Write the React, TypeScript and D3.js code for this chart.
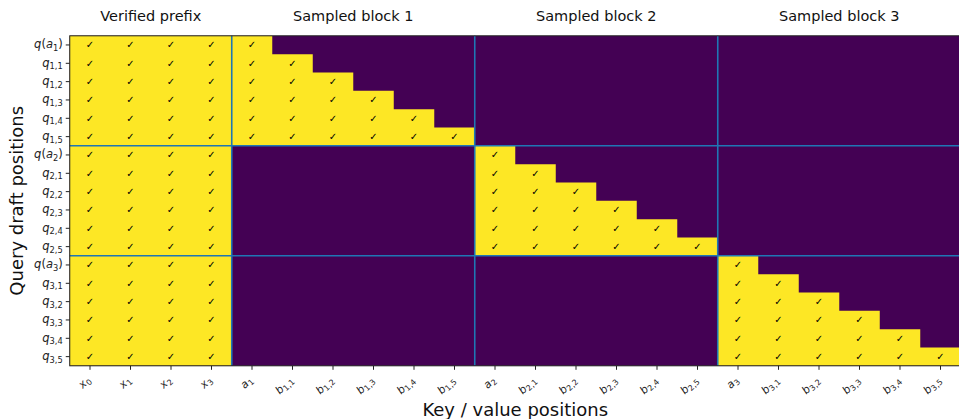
import React from "react";
import * as d3 from "d3";

// Column labels: [letter, subscript]
const colLabels: [string, string][] = [
  ["x", "0"], ["x", "1"], ["x", "2"], ["x", "3"],
  ["a", "1"], ["b", "1,1"], ["b", "1,2"], ["b", "1,3"], ["b", "1,4"], ["b", "1,5"],
  ["a", "2"], ["b", "2,1"], ["b", "2,2"], ["b", "2,3"], ["b", "2,4"], ["b", "2,5"],
  ["a", "3"], ["b", "3,1"], ["b", "3,2"], ["b", "3,3"], ["b", "3,4"], ["b", "3,5"],
];
// Row labels: [kind, subscript]; kind "qa" => q(a_k)
const rowLabels: [string, string][] = [
  ["qa", "1"], ["q", "1,1"], ["q", "1,2"], ["q", "1,3"], ["q", "1,4"], ["q", "1,5"],
  ["qa", "2"], ["q", "2,1"], ["q", "2,2"], ["q", "2,3"], ["q", "2,4"], ["q", "2,5"],
  ["qa", "3"], ["q", "3,1"], ["q", "3,2"], ["q", "3,3"], ["q", "3,4"], ["q", "3,5"],
];
// Attention mask (1 = allowed)
const maskRows: string[] = [
  "1111" + "100000" + "000000" + "000000",
  "1111" + "110000" + "000000" + "000000",
  "1111" + "111000" + "000000" + "000000",
  "1111" + "111100" + "000000" + "000000",
  "1111" + "111110" + "000000" + "000000",
  "1111" + "111111" + "000000" + "000000",
  "1111" + "000000" + "100000" + "000000",
  "1111" + "000000" + "110000" + "000000",
  "1111" + "000000" + "111000" + "000000",
  "1111" + "000000" + "111100" + "000000",
  "1111" + "000000" + "111110" + "000000",
  "1111" + "000000" + "111111" + "000000",
  "1111" + "000000" + "000000" + "100000",
  "1111" + "000000" + "000000" + "110000",
  "1111" + "000000" + "000000" + "111000",
  "1111" + "000000" + "000000" + "111100",
  "1111" + "000000" + "000000" + "111110",
  "1111" + "000000" + "000000" + "111111",
];
const groupTitles: string[] = ["Verified prefix", "Sampled block 1", "Sampled block 2", "Sampled block 3"];
const colGroupSizes: number[] = [4, 6, 6, 6];
const rowGroupSizes: number[] = [6, 6, 6];

const W = 959, H = 419;
const L = 69.75, R = 960.75, T = 35.8, B = 365.8;
const FONT = "DejaVu Sans, sans-serif";
const YELLOW = "#fde725", PURPLE = "#440154", BLUE = "#1f77b4";

function Sub({ base, sub, fs }: { base: string; sub: string; fs: number }) {
  return (
    <>
      <tspan fontStyle="italic">{base}</tspan>
      <tspan fontSize={fs * 0.72} dy={fs * 0.22}>{sub}</tspan>
    </>
  );
}

export default function App() {
  const cols = d3.range(colLabels.length);
  const rows = d3.range(rowLabels.length);
  const x = d3.scaleBand<number>().domain(cols).range([L, R]).padding(0);
  const y = d3.scaleBand<number>().domain(rows).range([T, B]).padding(0);
  const cw = x.bandwidth(), ch = y.bandwidth();
  const color = d3.scaleOrdinal<string, string>().domain(["0", "1"]).range([PURPLE, YELLOW]);

  const colBounds = d3.cumsum(colGroupSizes);
  const rowBounds = d3.cumsum(rowGroupSizes);
  const colStarts = [0, ...Array.from(colBounds)];

  // union of all "1" cells as one path (no seams between cells)
  const p = d3.path();
  rows.forEach((r) =>
    cols.forEach((c) => {
      if (maskRows[r][c] === "1") p.rect(x(c) as number, y(r) as number, cw + 0.01, ch + 0.01);
    })
  );

  return (
    <svg width={W} height={H} style={{ position: "absolute", left: 0, top: 0, fontFamily: FONT }}>
      <rect width={W} height={H} fill="#fff" />
      <rect x={L} y={T} width={R - L} height={B - T} fill={color("0")} />
      <path d={p.toString()} fill={color("1")} fillRule="nonzero" />
      {rows.map((r) =>
        cols.map((c) =>
          maskRows[r][c] === "1" ? (
            <text key={`t${r}-${c}`} x={(x(c) as number) + cw / 2} y={(y(r) as number) + ch / 2}
              textAnchor="middle" dominantBaseline="central" fontSize={10} fill="#000">✓</text>
          ) : null
        )
      )}
      {/* group separators */}
      {Array.from(colBounds).slice(0, -1).map((b, i) => (
        <line key={`vc${i}`} x1={x(b)} x2={x(b)} y1={T} y2={B} stroke={BLUE} strokeWidth={1.6} />
      ))}
      {Array.from(rowBounds).slice(0, -1).map((b, i) => (
        <line key={`hr${i}`} x1={L} x2={R} y1={y(b)} y2={y(b)} stroke={BLUE} strokeWidth={1.6} />
      ))}
      {/* spines */}
      <rect x={L} y={T} width={R - L} height={B - T} fill="none" stroke="#222" strokeWidth={1} />
      {/* group titles */}
      {groupTitles.map((t, i) => {
        const cx = ((x(colStarts[i]) as number) + (x(colStarts[i + 1] - 1) as number) + cw) / 2;
        return (
          <text key={t} x={cx} y={21} textAnchor="middle" fontSize={14.5} fill="#111">{t}</text>
        );
      })}
      {/* y ticks */}
      {rows.map((r) => {
        const yc = (y(r) as number) + ch / 2;
        const [kind, sub] = rowLabels[r];
        const fs = 11.5;
        return (
          <g key={`yt${r}`}>
            <line x1={L - 4} x2={L} y1={yc} y2={yc} stroke="#222" strokeWidth={1} />
            <text x={L - 7} y={yc + 3.5} textAnchor="end" fontSize={fs} fill="#222">
              {kind === "qa" ? (
                <>
                  <tspan fontStyle="italic">q</tspan>
                  <tspan>(</tspan>
                  <tspan fontStyle="italic">a</tspan>
                  <tspan fontSize={fs * 0.72} dy={fs * 0.22}>{sub}</tspan>
                  <tspan dy={-fs * 0.22}>)</tspan>
                </>
              ) : (
                <Sub base="q" sub={sub} fs={fs} />
              )}
            </text>
          </g>
        );
      })}
      {/* x ticks */}
      {cols.map((c) => {
        const xc = (x(c) as number) + cw / 2;
        const [base, sub] = colLabels[c];
        const fs = 11;
        return (
          <g key={`xt${c}`}>
            <line x1={xc} x2={xc} y1={B} y2={B + 4} stroke="#222" strokeWidth={1} />
            <text transform={`translate(${xc + 1},${B + 15}) rotate(-45)`} textAnchor="end"
              fontSize={fs} fill="#222">
              <Sub base={base} sub={sub} fs={fs} />
            </text>
          </g>
        );
      })}
      <text x={(L + R) / 2} y={416} textAnchor="middle" fontSize={18} fill="#111">Key / value positions</text>
      <text transform={`translate(23,${(T + B) / 2}) rotate(-90)`} textAnchor="middle" fontSize={18}
        fill="#111">Query draft positions</text>
    </svg>
  );
}
